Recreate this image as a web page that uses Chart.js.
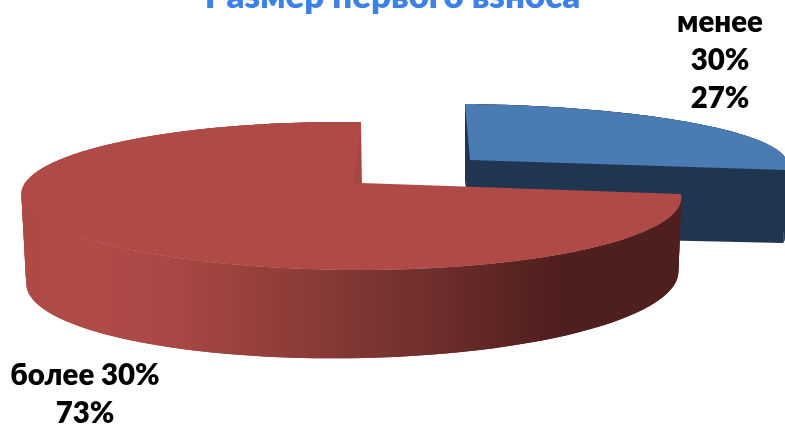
<!DOCTYPE html>
<html>
<head>
<meta charset="utf-8">
<style>
  html, body { margin: 0; padding: 0; background: #fff; overflow: hidden; }
  canvas { display: block; }
</style>
<script src="https://cdn.jsdelivr.net/npm/chart.js@4"></script>
</head>
<body>
<canvas id="chart" width="785" height="426"></canvas>
<script>
const titleText = 'Размер первого взноса';
const categories = ['менее 30%', 'более 30%'];
const shares = [27, 73];
const topColors = ['#4a7bb2', '#af4a46'];

// how the flat pie is laid onto the tilted plane, one view per slice
// x = (cx + ax*u + bx*v) / w, y = (cy + ay*u + by*v) / w, w = 1 + wu*u + wv*v
const views = [
  { cx: 470, cy: 160, ax: 317, bx: 5, ay: 3, by: 56, wu: 0, wv: 0, dx: (u) => -2 * u, dy: (u) => 76 - 3 * u },
  { cx: 361, cy: 183, ax: 335, bx: -63.5, ay: 7.4, by: 39.5, wu: 0.0288, wv: -0.176,
    dx: (u) => 1 - 4 * u, dy: (u, v) => 80 - 8 * u + 8 * v }
];
const labelLines = [['менее', '30%'], ['более 30%']];
const labelAnchors = [{ x: 720, y: 23 }, { x: 85, y: 376 }];

function project(view, u, v) {
  const w = 1 + view.wu * u + view.wv * v;
  return { x: (view.cx + view.ax * u + view.bx * v) / w, y: (view.cy + view.ay * u + view.by * v) / w };
}

function drop(view, u, v) {
  const p = project(view, u, v);
  return { x: p.x + view.dx(u, v), y: p.y + view.dy(u, v) };
}

function arcPoints(start, end) {
  const pts = [];
  for (let i = 0; i <= 160; i++) {
    const a = start + (end - start) * i / 160;
    pts.push([Math.cos(a), Math.sin(a)]);
  }
  return pts;
}

function fillPoly(ctx, pts, style) {
  ctx.beginPath();
  pts.forEach((p, i) => (i ? ctx.lineTo(p.x, p.y) : ctx.moveTo(p.x, p.y)));
  ctx.closePath();
  ctx.fillStyle = style;
  ctx.fill();
}

function redSideGradient(ctx) {
  const g = ctx.createLinearGradient(22, 0, 680, 0);
  g.addColorStop(0, '#ad4a46');
  g.addColorStop(0.1, '#b04c48');
  g.addColorStop(0.24, '#a84744');
  g.addColorStop(0.44, '#8a3b38');
  g.addColorStop(0.62, '#6f2e2c');
  g.addColorStop(0.82, '#4e1f1e');
  g.addColorStop(1, '#4e1f1e');
  return g;
}

const tiltedPie = {
  id: 'tiltedPie',
  beforeDatasetDraw(chart) {
    const ctx = chart.ctx;
    const arcs = chart.getDatasetMeta(0).data;
    const sides = ['#1f3550', redSideGradient(ctx)];

    arcs.forEach((arc, i) => {
      const view = views[i];
      const pts = arcPoints(arc.startAngle, arc.endAngle);
      const top = pts.map(p => project(view, p[0], p[1]));
      const bottom = pts.map(p => drop(view, p[0], p[1]));
      const apex = project(view, 0, 0);
      const apexLow = drop(view, 0, 0);

      // outer wall as overlapping strips so the silhouette fills without seams
      for (let n = 0; n < top.length - 2; n++) {
        fillPoly(ctx, [top[n], top[n + 2], bottom[n + 2], bottom[n]], sides[i]);
      }
      if (i === 0) {
        fillPoly(ctx, [apex, top[0], bottom[0], apexLow], sides[i]);
        fillPoly(ctx, [apex, top[top.length - 1], bottom[bottom.length - 1], apexLow], sides[i]);
      }
      fillPoly(ctx, [apex].concat(top), arc.options.backgroundColor);
      if (i === 1) {
        // darker sliver beside the cut edge
        fillPoly(ctx, [project(view, 0, -0.8), apex, project(view, -0.024, 0)], '#a54643');
      }
    });
    return false;
  },
  afterDatasetsDraw(chart) {
    const ctx = chart.ctx;
    ctx.save();
    ctx.font = '800 29.4px Lato';
    ctx.fillStyle = '#000';
    ctx.textAlign = 'center';
    ctx.textBaseline = 'middle';
    shares.forEach((v, i) => {
      const lines = labelLines[i].concat(v + '%');
      lines.forEach((t, n) => ctx.fillText(t, labelAnchors[i].x, labelAnchors[i].y + n * 38));
    });
    ctx.restore();
  }
};

new Chart(document.getElementById('chart').getContext('2d'), {
  type: 'pie',
  data: {
    labels: categories,
    datasets: [{ data: shares, backgroundColor: topColors, borderWidth: 0 }]
  },
  options: {
    responsive: false,
    animation: false,
    devicePixelRatio: 1,
    plugins: {
      legend: { display: false },
      tooltip: { enabled: false },
      title: {
        display: true,
        text: titleText,
        color: '#3d80e8',
        font: { family: 'Lato', size: 34.8, weight: '800' },
        padding: { top: -24, bottom: 0 }
      }
    }
  },
  plugins: [tiltedPie]
});
</script>
</body>
</html>
